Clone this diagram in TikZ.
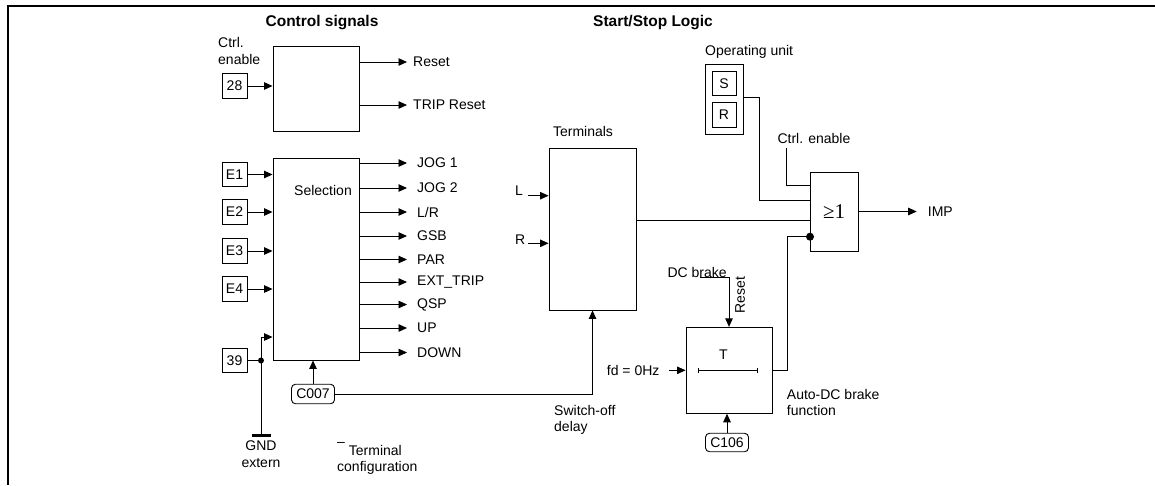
\documentclass[tikz,border=0pt]{standalone}
\usepackage{fontspec}
\setmainfont{Liberation Sans}
\newfontfamily\serifgate{Liberation Serif}
\usetikzlibrary{arrows.meta}
\begin{document}
\begin{tikzpicture}[x=1pt,y=-1pt,
  every node/.style={font=\fontsize{14}{16.5}\selectfont},
  box/.style={draw, line width=0.9pt, inner sep=0pt},
  pinbox/.style={draw, line width=0.9pt, minimum width=25pt, minimum height=24.5pt, inner sep=0pt},
  param/.style={draw, rounded corners=4pt, line width=0.9pt, minimum width=43pt, minimum height=19.5pt, inner sep=0pt},
  lbl/.style={anchor=west, inner sep=0pt},
  wire/.style={line width=0.9pt},
  arr/.style={wire, -{Triangle[length=8.5pt,width=7.5pt]}},
  title/.style={font=\fontsize{15.5}{18}\selectfont\bfseries},
  jdot/.style={circle, fill, inner sep=0pt, minimum size=#1},
]
\useasboundingbox (0,0) rectangle (1155,485);
\draw[line width=2pt] (1155,5.5) -- (8,5.5) -- (8,485);

% titles
\node[title] (t1) at (322,23) {Control signals};
\node[title] (t2) at (653,23) {Start/Stop Logic};

% control block
\node[box, minimum width=86pt, minimum height=85pt] (ctrl) at (316,88.5) {};
\node[anchor=north west, align=left, inner sep=0pt] (ce) at (218,37.5) {Ctrl.\\enable};
\node[pinbox] (p28) at (234.5,86) {28};
\draw[arr] (p28) -- (p28 -| ctrl.west);
\node[lbl] (reset) at (413,62) {Reset};
\node[lbl] (trip) at (413,105) {TRIP Reset};
\draw[arr] (reset -| ctrl.east) -- ([xshift=-6pt]reset.west);
\draw[arr] (trip -| ctrl.east) -- ([xshift=-6pt]trip.west);

% selection block
\node[box, minimum width=86pt, minimum height=202pt] (sel) at (316,259) {};
\node (seltxt) at (323,190) {Selection};
\foreach \n/\y in {E1/174.5, E2/212, E3/251, E4/289}{
  \node[pinbox] (p\n) at (234.5,\y) {\n};
  \draw[arr] (p\n) -- (p\n -| sel.west);
}
\foreach \i/\y/\t in {1/163/{JOG 1}, 2/188/{JOG 2}, 3/212/{L/R}, 4/236/{GSB}, 5/259.5/{PAR}, 6/282/{EXT\_TRIP}, 7/304.5/{QSP}, 8/328/{UP}, 9/352.5/{DOWN}}{
  \node[lbl] (o\i) at (417,\y) {\t};
  \draw[arr] (o\i -| sel.east) -- ([xshift=-10pt]o\i.west);
}
\node[pinbox] (p39) at (234.5,360.5) {39};
\node[jdot=6pt] (d39) at (261,360.5) {};
\draw[wire] (p39) -- (d39);
\coordinate (k39) at (261,337);
\draw[arr] (d39.center) -- (k39) -- (k39 -| sel.west);
\coordinate (gnd) at (261,435);
\draw[wire] (d39.center) -- (gnd);
\draw[line width=3pt] ([xshift=-9.5pt]gnd) -- ([xshift=9.5pt]gnd);
\node[align=center, anchor=north, inner sep=0pt] (gndl) at (261,441) {GND\\extern};

\node[param] (c007) at (313,394) {C007};
\draw[arr] (c007) -- (c007 |- sel.south);
\node[anchor=north west, align=left, inner sep=0pt] (tcfg) at (337,442) {\raisebox{0.65em}{–} Terminal\\configuration};

% terminals
\node[box, minimum width=87pt, minimum height=162pt] (term) at (592.5,229) {};
\node (terml) at (583,131) {Terminals};
\node[lbl] (ll) at (515,191) {L};
\node[lbl] (rl) at (515,240) {R};
\coordinate (lin) at (528,195.7);
\coordinate (rin) at (528,243.3);
\draw[arr] (lin) -- (lin -| term.west);
\draw[arr] (rin) -- (rin -| term.west);
\draw[arr] (c007.east) -- (c007.east -| term.south) -- (term.south);
\node[anchor=north west, align=left, inner sep=0pt] (sod) at (554,405) {Switch-off\\delay};

% operating unit
\node[lbl] (oul) at (705,52) {Operating unit};
\node[box, minimum width=38pt, minimum height=70pt] (ou) at (724,99) {};
\node[pinbox, minimum width=24pt] (ous) at (724,83.3) {S};
\node[pinbox, minimum width=24pt] (our) at (724,115) {R};

% OR gate
\node[box, minimum width=48pt, minimum height=79pt, font=\serifgate\fontsize{21}{24}\selectfont] (orgate) at (834,211.5) {≥1};
\coordinate (g1) at (810,185.7);
\coordinate (g2) at (810,200.7);
\coordinate (g3) at (810,220.7);
\node[jdot=8pt] (ordot) at (810,236.7) {};
\node[lbl] (cel) at (777.3,138.3) {Ctrl. enable};
\coordinate (cetop) at (786,148);
\draw[wire] (cetop) |- (g1);
\coordinate (oubend) at (759.3,97.7);
\draw[wire] (oubend -| ou.east) -- (oubend) |- (g2);
\draw[wire] (term.east |- g3) -- (g3);
\node[lbl] (imp) at (927.7,212) {IMP};
\draw[arr] (orgate.east) -- ([xshift=-11pt]imp.west |- orgate.east);

% T block
\node[box, minimum width=86pt, minimum height=86pt] (tbox) at (729,370.3) {};
\node (tl) at (723.3,355) {T};
\draw[wire, {Bar[width=5pt]}-{Bar[width=5pt]}] (697.7,370.3) -- (758.3,370.3);
\node[lbl] (fd) at (606.7,370.3) {fd = 0Hz};
\coordinate (fdin) at (669.3,370.3);
\draw[arr] (fdin) -- (tbox.west);
\node[lbl] (dcb) at (667.3,272.7) {DC brake};
\coordinate (dcbk) at (700,277.7);
\draw[arr] (dcbk) -| (tbox.north);
\node[rotate=90, inner sep=0pt] (rst) at (740,295) {Reset};
\node[param, minimum height=18.5pt] (c106) at (727,442.5) {C106};
\draw[arr] (c106) -- (c106 |- tbox.south);
\coordinate (tb) at (787.3,370.3);
\draw[wire] (tbox.east) -- (tb) |- (ordot.center);
\node[anchor=north west, align=left, inner sep=0pt] (adc) at (786.7,389) {Auto-DC brake\\function};
\end{tikzpicture}
\end{document}
